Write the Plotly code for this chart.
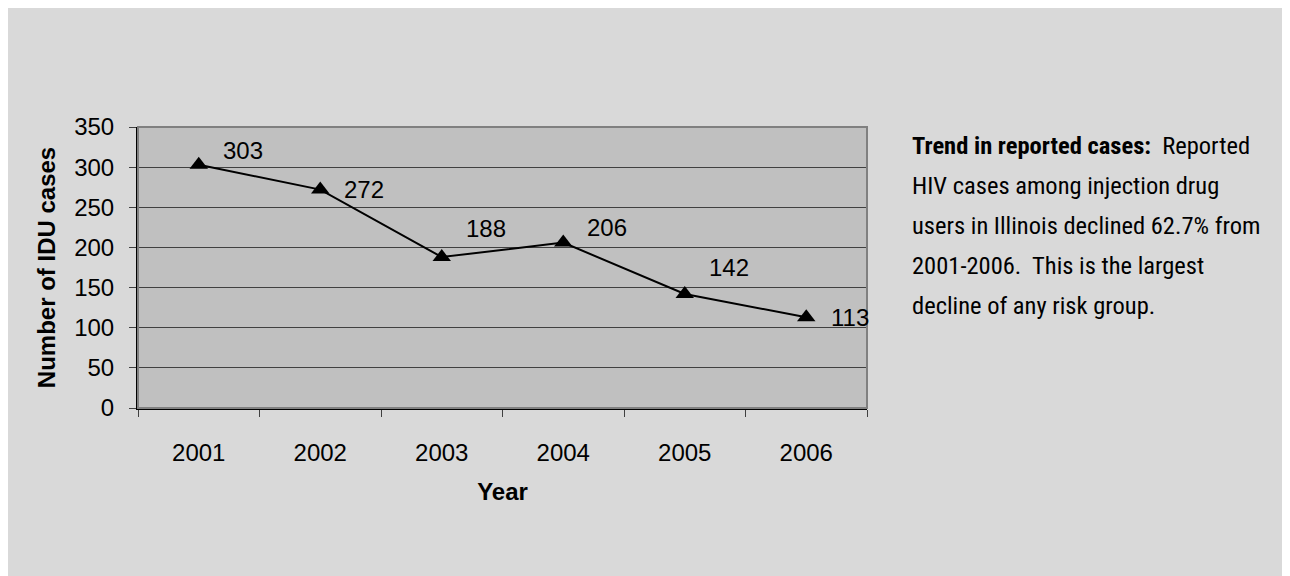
import plotly.graph_objects as go

years = ["2001", "2002", "2003", "2004", "2005", "2006"]
cases = [303, 272, 188, 206, 142, 113]
y_ticks = [0, 50, 100, 150, 200, 250, 300, 350]
label_dy = [14, 0, 29, 15, 26, 0]  # vertical offsets of value labels (px)

note_lines = [
    "<b>Trend in reported cases:</b>  Reported",
    "HIV cases among injection drug",
    "users in Illinois declined 62.7% from",
    "2001-2006.  This is the largest",
    "decline of any risk group.",
]

OFF = 8  # page body margin
W, H = 1290, 576
L, T = 138 - OFF, 127 - OFF
R = W - (867 - OFF)
B = H - (408 - OFF)
pw, ph = W - L - R, H - T - B

def px_x(p):
    return (p - OFF - L) / pw

def px_y(p):
    return (H - B - (p - OFF)) / ph

fig = go.Figure()
fig.add_trace(go.Scatter(
    x=years, y=cases, mode="lines+markers",
    line=dict(color="black", width=2),
    marker=dict(symbol="triangle-up", size=16, color="black"),
    cliponaxis=False, showlegend=False, hoverinfo="skip",
))

for i, (v, dy) in enumerate(zip(cases, label_dy)):
    fig.add_annotation(x=i, y=v, text=str(v), showarrow=False,
                       xshift=44, yshift=dy,
                       font=dict(family="Liberation Sans, Arial", size=24, color="black"))

note_font = "Roboto Condensed, Liberation Sans Narrow, Arial Narrow"
for i, line in enumerate(note_lines):
    fig.add_annotation(xref="paper", yref="paper", x=px_x(910), y=px_y(145 + 40 * i),
                       xanchor="left", yanchor="middle", showarrow=False, text=line,
                       font=dict(family=note_font, size=24.5, color="black"))

shapes = [
    dict(type="rect", xref="paper", yref="paper", x0=0, x1=1, y0=0, y1=1,
         line=dict(color="#808080", width=2), layer="above"),
]

fig.update_layout(
    width=W, height=H,
    margin=dict(l=L, r=R, t=T, b=B, pad=0),
    paper_bgcolor="#d9d9d9", plot_bgcolor="#c0c0c0",
    font=dict(family="Liberation Sans, Arial", size=24, color="black"),
    shapes=shapes,
    xaxis=dict(type="category", tickson="boundaries", ticks="outside", ticklen=7,
               tickcolor="#404040", tickwidth=1, showgrid=False,
               showline=True, linecolor="black", linewidth=2,
               ticklabelstandoff=22,
               title=dict(text="<b>Year</b>", standoff=18, font=dict(size=24)),
               tickfont=dict(size=24), range=[-0.5, 5.5]),
    yaxis=dict(range=[0, 350], tickvals=y_ticks, ticks="outside", ticklen=7,
               tickcolor="#404040", showgrid=True, gridcolor="#404040", gridwidth=1,
               showline=True, linecolor="black", linewidth=2, zeroline=False,
               ticklabelstandoff=10,
               title=dict(text="<b>Number of IDU cases</b>", standoff=12, font=dict(size=24)),
               tickfont=dict(size=24)),
)

fig.write_html("out.html")
